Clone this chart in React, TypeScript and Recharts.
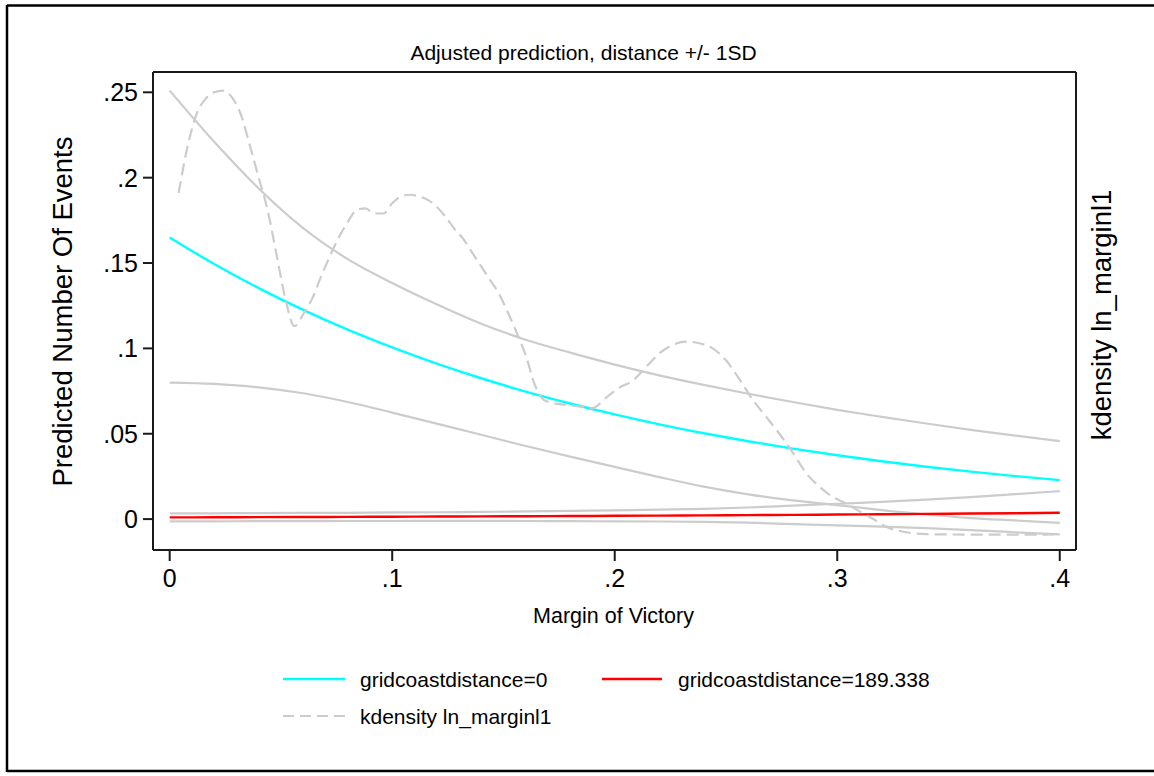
import React from 'react';
import { LineChart, Line, XAxis, YAxis, ReferenceLine } from 'recharts';

// ---- data ----
const xGrid = [0, 0.02, 0.04, 0.06, 0.08, 0.1, 0.12, 0.14, 0.16, 0.18, 0.2, 0.22, 0.24, 0.26, 0.28, 0.3, 0.32, 0.34, 0.36, 0.38, 0.4];

const predDist0 = [0.165, 0.1494, 0.1353, 0.1226, 0.111, 0.1006, 0.0911, 0.0825, 0.0747, 0.0677, 0.0613, 0.0555, 0.0503, 0.0456, 0.0413, 0.0374, 0.0339, 0.0307, 0.0278, 0.0252, 0.0228];
const upperDist0 = [0.251, 0.221, 0.1937, 0.1705, 0.1523, 0.1383, 0.1258, 0.1144, 0.1051, 0.0975, 0.0905, 0.0842, 0.0786, 0.0734, 0.0686, 0.064, 0.0599, 0.056, 0.0523, 0.0489, 0.0457];
const lowerDist0 = [0.08, 0.0792, 0.0772, 0.0737, 0.0686, 0.0624, 0.0559, 0.0494, 0.0428, 0.0366, 0.0306, 0.0246, 0.019, 0.0145, 0.011, 0.0082, 0.0053, 0.0027, 0.0006, -0.0008, -0.0022];

const predDist189 = [0.001, 0.00107, 0.00114, 0.00122, 0.0013, 0.00139, 0.00148, 0.00158, 0.00169, 0.0018, 0.00192, 0.00205, 0.00219, 0.00234, 0.0025, 0.00266, 0.00285, 0.00304, 0.00324, 0.00346, 0.0037];
const upperDist189 = [0.0033, 0.0034, 0.0035, 0.0036, 0.0037, 0.0039, 0.004, 0.0042, 0.0045, 0.0048, 0.0051, 0.0055, 0.006, 0.0068, 0.0079, 0.009, 0.0101, 0.0114, 0.0129, 0.0146, 0.0164];
const lowerDist189 = [-0.0013, -0.0013, -0.0012, -0.0012, -0.0011, -0.0011, -0.001, -0.001, -0.0011, -0.0012, -0.0013, -0.0014, -0.0016, -0.0021, -0.0029, -0.0037, -0.0044, -0.0053, -0.0064, -0.0077, -0.009];

const kdensX = [0.004, 0.008, 0.012, 0.016, 0.02, 0.024, 0.028, 0.032, 0.036, 0.04, 0.044, 0.048, 0.052, 0.056, 0.06, 0.064, 0.068, 0.072, 0.076, 0.08, 0.084, 0.088, 0.092, 0.096, 0.1, 0.104, 0.108, 0.112, 0.116, 0.12, 0.124, 0.128, 0.132, 0.136, 0.14, 0.144, 0.148, 0.152, 0.156, 0.16, 0.164, 0.168, 0.172, 0.178, 0.184, 0.19, 0.196, 0.202, 0.208, 0.214, 0.22, 0.226, 0.232, 0.238, 0.244, 0.25, 0.256, 0.262, 0.268, 0.274, 0.28, 0.286, 0.292, 0.298, 0.304, 0.31, 0.316, 0.322, 0.328, 0.334, 0.34, 0.35, 0.36, 0.37, 0.38, 0.39, 0.4];
const kdensY = [0.191, 0.218, 0.237, 0.246, 0.25, 0.251, 0.247, 0.237, 0.219, 0.2, 0.181, 0.155, 0.129, 0.113, 0.12, 0.129, 0.142, 0.154, 0.165, 0.174, 0.181, 0.182, 0.179, 0.179, 0.185, 0.189, 0.19, 0.189, 0.187, 0.183, 0.177, 0.17, 0.164, 0.156, 0.148, 0.14, 0.132, 0.121, 0.109, 0.096, 0.079, 0.07, 0.068, 0.067, 0.066, 0.065, 0.071, 0.077, 0.081, 0.089, 0.097, 0.102, 0.104, 0.103, 0.1, 0.093, 0.082, 0.07, 0.06, 0.05, 0.039, 0.027, 0.019, 0.013, 0.0092, 0.0045, 0.0002, -0.0045, -0.007, -0.0083, -0.0088, -0.009, -0.0091, -0.0091, -0.0091, -0.0091, -0.009];

const xTicks = [0, 0.1, 0.2, 0.3, 0.4];
const yTicks = [0, 0.05, 0.1, 0.15, 0.2, 0.25];
const X_DOMAIN: [number, number] = [-0.0075, 0.4073];
const Y_DOMAIN: [number, number] = [-0.0181, 0.2619];

const toSeries = (ys: number[]) => xGrid.map((x, i) => ({ x, y: ys[i] }));
const kdensData = kdensX.map((x, i) => ({ x, y: kdensY[i] }));

const FONT = 'Liberation Sans, Arial, Helvetica, sans-serif';
const GRAY = '#cccccc';
const AX = '#1a1a1a';

const fmt = (v: number) => (v === 0 ? '0' : String(v).replace(/^0/, ''));

export default function App() {
  return (
    <div style={{ position: 'absolute', left: 0, top: 0, width: 1154, height: 776, background: '#fff' }}>
      <LineChart
        width={1154}
        height={776}
        margin={{ top: 72, right: 58, bottom: 176, left: 93 }}
      >
        <XAxis
          dataKey="x"
          type="number"
          domain={X_DOMAIN}
          ticks={xTicks}
          allowDataOverflow
          tickFormatter={fmt}
          height={50}
          tickSize={11}
          tickMargin={8}
          axisLine={{ stroke: AX, strokeWidth: 2 }}
          tickLine={{ stroke: AX, strokeWidth: 2 }}
          tick={{ fill: '#000', fontSize: 25, fontFamily: FONT }}
        />
        <YAxis
          yAxisId="left"
          type="number"
          domain={Y_DOMAIN}
          ticks={yTicks}
          allowDataOverflow
          tickFormatter={fmt}
          width={60}
          tickSize={10}
          tickMargin={5}
          axisLine={{ stroke: AX, strokeWidth: 2 }}
          tickLine={{ stroke: AX, strokeWidth: 2 }}
          tick={{ fill: '#000', fontSize: 25, fontFamily: FONT }}
        />
        <YAxis
          yAxisId="right"
          orientation="right"
          type="number"
          domain={Y_DOMAIN}
          allowDataOverflow
          width={20}
          tick={false}
          tickLine={false}
          axisLine={{ stroke: AX, strokeWidth: 2 }}
        />
        <ReferenceLine yAxisId="left" y={Y_DOMAIN[1]} stroke={AX} strokeWidth={2} />
        <Line yAxisId="left" data={toSeries(upperDist0)} dataKey="y" type="monotone" stroke={GRAY} strokeWidth={2.2} dot={false} isAnimationActive={false} legendType="none" />
        <Line yAxisId="left" data={toSeries(lowerDist0)} dataKey="y" type="monotone" stroke={GRAY} strokeWidth={2.2} dot={false} isAnimationActive={false} legendType="none" />
        <Line yAxisId="left" data={toSeries(upperDist189)} dataKey="y" type="monotone" stroke={GRAY} strokeWidth={2.2} dot={false} isAnimationActive={false} legendType="none" />
        <Line yAxisId="left" data={toSeries(lowerDist189)} dataKey="y" type="monotone" stroke={GRAY} strokeWidth={2.2} dot={false} isAnimationActive={false} legendType="none" />
        <Line yAxisId="left" data={toSeries(predDist0)} dataKey="y" name="gridcoastdistance=0" type="monotone" stroke="#00ffff" strokeWidth={2.4} dot={false} isAnimationActive={false} />
        <Line yAxisId="left" data={toSeries(predDist189)} dataKey="y" name="gridcoastdistance=189.338" type="monotone" stroke="#ff0000" strokeWidth={2.4} dot={false} isAnimationActive={false} />
        <Line yAxisId="right" data={kdensData} dataKey="y" name="kdensity ln_marginl1" type="monotone" stroke={GRAY} strokeWidth={2.2} strokeDasharray="12 6" dot={false} isAnimationActive={false} />
      </LineChart>
      <svg
        width={1154}
        height={776}
        style={{ position: 'absolute', left: 0, top: 0, pointerEvents: 'none' }}
      >
        {/* outer frame */}
        <line x1={7} y1={5.5} x2={1154} y2={5.5} stroke="#000" strokeWidth={2.5} />
        <line x1={7} y1={5} x2={7} y2={772} stroke="#000" strokeWidth={2.5} />
        <line x1={7} y1={771} x2={1154} y2={771} stroke="#000" strokeWidth={2.5} />
        {/* title */}
        <text x={583.5} y={60} textAnchor="middle" fontFamily={FONT} fontSize={21} fill="#000">
          Adjusted prediction, distance +/- 1SD
        </text>
        {/* axis titles */}
        <text x={0} y={0} transform="translate(71.5,311.5) rotate(-90)" textAnchor="middle" fontFamily={FONT} fontSize={27.5} fill="#000">
          Predicted Number Of Events
        </text>
        <text x={0} y={0} transform="translate(1111,315) rotate(-90)" textAnchor="middle" fontFamily={FONT} fontSize={27.5} fill="#000">
          kdensity ln_marginl1
        </text>
        <text x={613.5} y={623} textAnchor="middle" fontFamily={FONT} fontSize={21.5} fill="#000">
          Margin of Victory
        </text>
        {/* legend */}
        <line x1={283} y1={679} x2={345} y2={679} stroke="#00ffff" strokeWidth={2.4} />
        <text x={360} y={686.5} fontFamily={FONT} fontSize={21} fill="#000">gridcoastdistance=0</text>
        <line x1={602} y1={679} x2={662} y2={679} stroke="#ff0000" strokeWidth={2.4} />
        <text x={678} y={686.5} fontFamily={FONT} fontSize={21} fill="#000">gridcoastdistance=189.338</text>
        <line x1={283} y1={716} x2={345} y2={716} stroke={GRAY} strokeWidth={2.2} strokeDasharray="11 6" />
        <text x={360} y={723.5} fontFamily={FONT} fontSize={21} fill="#000">kdensity ln_marginl1</text>
      </svg>
    </div>
  );
}
